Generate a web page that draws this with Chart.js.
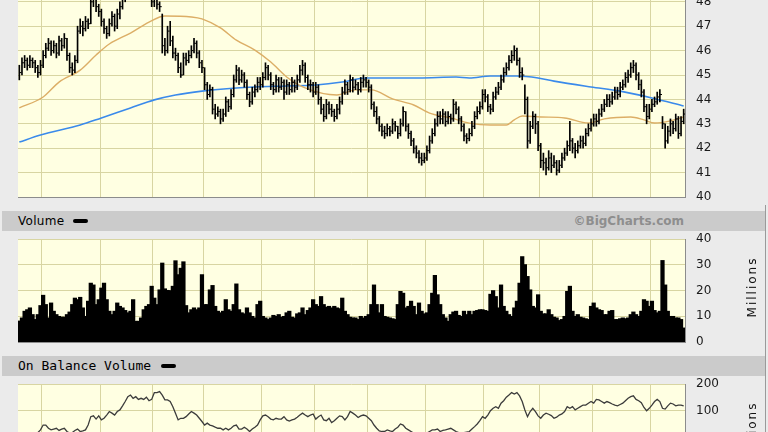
<!DOCTYPE html>
<html>
<head>
<meta charset="utf-8">
<script src="https://cdn.jsdelivr.net/npm/chart.js@4/dist/chart.umd.min.js"></script>
<style>
html,body{margin:0;padding:0;width:768px;height:432px;overflow:hidden;background:#EBEBEB;position:relative;font-family:"DejaVu Sans",Verdana,sans-serif;}
canvas{position:absolute;left:0;}
.band{position:absolute;left:2px;width:763px;height:20px;background:#CBCBCB;}
.lbl{position:absolute;left:18px;height:20px;line-height:20px;font-size:12px;color:#000;white-space:nowrap;}
.mono{font-family:"DejaVu Sans Mono",monospace;font-size:13px;}
.sw{position:absolute;width:15px;height:4px;background:#000;border-radius:2px;}
.copy{position:absolute;right:84px;height:20px;line-height:20px;font-size:12px;font-weight:bold;color:#8E8E8E;}
.mil{position:absolute;left:712px;width:80px;height:14px;line-height:14px;text-align:center;font-size:12px;letter-spacing:2px;color:#111;transform:rotate(-90deg);transform-origin:50% 50%;}
.edge{position:absolute;left:765px;top:205px;width:1px;height:227px;background:#9A9A9A;}
</style>
</head>
<body>
<canvas id="price" width="768" height="200" style="top:0px"></canvas>
<div class="band" style="top:211px"></div>
<div class="lbl" style="top:211px;letter-spacing:0.3px">Volume</div>
<div class="sw" style="left:73px;top:219px"></div>
<div class="copy" style="top:211px">©BigCharts.com</div>
<canvas id="vol" width="768" height="120" style="top:230px"></canvas>
<div class="mil" style="top:280px">Millions</div>
<div class="band" style="top:356px"></div>
<div class="lbl mono" style="top:356px">On Balance Volume</div>
<div class="sw" style="left:161px;top:364px"></div>
<canvas id="obv" width="768" height="56" style="top:376px"></canvas>
<div class="mil" style="top:425px">Millions</div>
<div class="edge"></div>
<script>
// ---------- DATA ----------
const monthStarts = [9, 31, 51, 70, 92, 112, 132, 154, 176, 197, 217, 239];
const priceTicks = [40, 41, 42, 43, 44, 45, 46, 47, 48];
const volumeTicks = [0, 10, 20, 30, 40];
const obvTicks = [100, 200];

const closes = [
 45.1,45.5,45.6,45.4,45.6,45.5,45.3,45.1,45.4,45.8,
 46.1,46.3,46.0,46.2,45.9,46.4,46.2,46.5,45.8,45.3,
 45.2,45.6,46.8,47.0,46.9,47.2,47.1,48.0,48.2,47.8,
 47.6,47.2,46.9,46.7,47.1,47.4,47.0,47.5,47.8,48.1,
 48.4,48.7,49.0,49.3,49.1,48.8,49.2,49.0,48.6,48.3,
 48.0,48.1,47.9,47.8,46.2,46.0,46.8,46.4,45.9,45.8,
 45.3,45.0,45.7,45.6,45.8,46.0,46.3,45.9,45.5,45.3,
 44.6,44.2,44.4,43.6,43.4,43.5,43.2,43.4,43.9,43.7,
 44.2,44.8,45.2,44.8,45.0,44.7,44.2,43.9,44.3,44.4,
 44.7,44.6,44.9,45.3,45.0,44.6,44.4,44.8,44.5,44.7,
 44.3,44.6,44.4,44.7,44.5,44.8,45.2,45.4,44.9,44.6,
 44.6,44.3,44.5,44.0,43.6,43.3,43.8,43.6,43.5,43.3,
 43.6,43.9,44.3,44.6,44.4,44.8,44.5,44.6,44.4,44.7,
 44.8,44.7,44.5,43.8,43.5,43.2,42.9,42.7,42.6,42.8,
 42.7,43.0,42.9,42.6,43.0,43.5,42.9,42.6,42.3,42.0,
 41.8,41.6,41.5,41.6,41.9,42.3,42.6,43.0,43.3,43.2,
 43.4,43.1,43.3,43.2,43.8,43.6,43.2,42.9,42.5,42.4,
 42.6,42.9,43.3,43.5,43.7,44.2,44.1,43.7,43.6,44.1,
 44.3,44.5,44.8,45.1,45.3,45.6,45.8,46.0,45.6,45.1,
 45.0,44.0,42.3,42.9,43.3,43.0,42.1,41.5,41.4,41.2,
 41.6,41.3,41.4,41.1,41.3,41.6,41.8,42.1,42.3,42.0,
 41.9,42.1,42.3,42.2,42.6,42.8,43.0,43.2,43.1,43.4,
 43.6,43.8,44.0,43.9,44.1,44.3,44.2,44.5,44.6,44.9,
 45.0,45.3,45.4,45.0,44.6,44.3,43.7,43.3,43.6,43.8,
 43.9,44.1,44.2,43.0,42.3,42.7,43.0,42.8,43.2,42.6,
 43.1,43.4
];
const highs = [
 45.4,45.7,45.8,45.7,45.8,45.7,45.6,45.4,45.6,46.0,
 46.3,46.5,46.4,46.4,46.3,46.6,46.5,46.7,46.5,45.9,
 45.5,45.8,47.0,47.3,47.2,47.4,47.3,48.2,48.4,48.3,
 47.9,47.7,47.3,47.0,47.3,47.6,47.5,47.7,48.0,48.3,
 48.6,48.9,49.2,49.5,49.4,49.2,49.4,49.3,49.1,48.7,
 48.4,48.3,48.2,48.0,47.5,46.5,47.0,47.2,46.6,46.1,
 45.9,45.5,45.9,45.9,46.0,46.2,46.5,46.4,46.0,45.6,
 45.3,44.7,44.6,44.5,43.8,43.7,43.6,43.6,44.1,44.0,
 44.4,45.0,45.4,45.3,45.2,45.1,44.8,44.3,44.5,44.6,
 44.9,44.9,45.1,45.5,45.4,45.1,44.7,45.0,44.9,44.9,
 44.8,44.8,44.7,44.9,44.8,45.0,45.4,45.6,45.5,45.0,
 44.8,44.7,44.7,44.6,44.1,43.8,44.0,43.9,43.8,43.6,
 43.8,44.1,44.5,44.8,44.7,45.0,44.9,44.8,44.7,44.9,
 45.0,44.9,44.8,44.6,43.9,43.7,43.3,43.0,42.9,43.0,
 42.9,43.2,43.1,42.9,43.2,43.7,43.5,43.0,42.7,42.4,
 42.1,41.9,41.8,41.8,42.1,42.5,42.8,43.2,43.5,43.5,
 43.6,43.5,43.5,43.4,44.0,43.9,43.7,43.3,43.0,42.6,
 42.8,43.1,43.5,43.7,43.9,44.4,44.4,44.2,43.8,44.3,
 44.5,44.7,45.0,45.3,45.5,45.8,46.0,46.2,46.1,45.7,
 45.3,44.6,44.1,43.1,43.5,43.4,43.1,42.2,41.8,41.6,
 41.9,41.8,41.7,41.5,41.5,41.8,42.0,42.3,43.1,42.4,
 42.2,42.3,42.5,42.5,42.8,43.0,43.2,43.4,43.4,43.6,
 43.8,44.0,44.2,44.2,44.3,44.5,44.5,44.7,44.8,45.1,
 45.2,45.5,45.6,45.5,45.1,44.8,44.4,43.8,43.8,44.0,
 44.1,44.3,44.4,43.3,43.0,42.9,43.2,43.1,43.4,43.3,
 43.3,43.6
];
const lows = [
 44.8,45.0,45.3,45.2,45.3,45.3,45.1,44.9,45.0,45.3,
 45.7,46.0,45.8,45.9,45.7,45.8,46.0,46.1,45.6,45.1,
 45.0,45.1,45.5,46.7,46.6,46.8,46.9,47.1,47.8,47.6,
 47.4,47.0,46.7,46.5,46.6,47.0,46.8,46.9,47.3,47.7,
 48.0,48.3,48.6,48.9,48.9,48.6,48.7,48.8,48.4,48.1,
 47.8,47.8,47.7,47.6,45.9,45.8,45.9,46.2,45.7,45.6,
 45.1,44.9,45.0,45.4,45.5,45.7,45.9,45.7,45.3,45.1,
 44.4,44.0,44.1,43.4,43.2,43.3,43.0,43.1,43.3,43.5,
 43.6,44.1,44.7,44.6,44.7,44.5,44.0,43.7,43.8,44.1,
 44.3,44.4,44.5,44.8,44.8,44.4,44.2,44.3,44.3,44.4,
 44.0,44.2,44.2,44.3,44.3,44.4,44.7,45.0,44.7,44.4,
 44.3,44.1,44.2,43.8,43.4,43.1,43.2,43.4,43.3,43.1,
 43.2,43.4,43.8,44.2,44.2,44.3,44.3,44.4,44.2,44.3,
 44.5,44.5,44.3,43.6,43.3,43.0,42.7,42.5,42.4,42.5,
 42.5,42.6,42.7,42.4,42.5,42.9,42.7,42.4,42.1,41.8,
 41.6,41.4,41.3,41.4,41.5,41.8,42.2,42.5,42.9,43.0,
 43.0,42.9,43.0,43.0,43.1,43.4,43.0,42.7,42.3,42.2,
 42.3,42.5,42.8,43.2,43.4,43.6,43.9,43.5,43.4,43.5,
 44.0,44.2,44.4,44.7,45.0,45.2,45.5,45.6,45.4,44.9,
 44.8,43.4,42.0,42.2,42.8,42.6,41.9,41.2,41.1,40.9,
 41.1,41.0,41.2,40.9,41.0,41.2,41.5,41.7,41.9,41.8,
 41.6,41.8,42.0,42.0,42.1,42.5,42.7,42.9,42.9,43.0,
 43.3,43.5,43.7,43.7,43.8,44.0,44.0,44.1,44.4,44.5,
 44.7,44.9,45.1,44.8,44.4,44.1,43.5,43.0,43.2,43.5,
 43.7,43.8,43.9,42.8,42.0,42.2,42.5,42.6,42.7,42.4,
 42.5,43.0
];
// moving averages, read at sample bars
const maShortIdx = [0,9,15,23,29,34,42,49,55,65,69,76,82,89,95,101,108,120,127,133,141,149,155,163,170,178,184,187,190,197,206,215,221,231,236,240,246,251];
const maShortVal = [43.65,44.10,44.71,45.20,45.82,46.27,46.72,47.17,47.42,47.38,47.30,46.93,46.43,46.02,45.53,44.92,44.47,44.18,44.39,44.39,44.02,43.77,43.44,43.24,43.03,42.95,42.95,43.16,43.32,43.28,43.24,43.03,43.20,43.28,43.16,43.03,43.12,43.28];
const maLongIdx = [0,8,23,31,42,51,59,69,82,89,101,112,122,131,151,165,170,178,188,196,202,216,227,239,251];
const maLongVal = [42.25,42.54,42.95,43.24,43.65,43.98,44.18,44.34,44.47,44.51,44.55,44.59,44.71,44.88,44.88,44.92,44.88,44.96,44.96,44.88,44.75,44.51,44.34,44.06,43.73];

const volumes = [
 8.0,9.2,11.8,12.4,13.1,10.5,8.6,10.5,14.0,18.0,
 14.4,9.2,15.0,11.8,10.5,9.8,9.5,9.5,10.5,11.5,
 14.4,16.9,16.3,17.2,13.1,9.8,15.7,22.7,22.0,14.4,
 16.3,20.8,22.7,16.3,11.8,10.5,11.8,15.0,13.7,13.1,
 12.1,11.2,11.8,16.3,7.9,7.9,9.2,12.4,13.7,14.4,
 21.5,16.9,14.4,20.1,30.5,20.5,19.9,19.8,21.5,31.4,
 26.0,28.5,31.0,14.0,11.2,12.4,13.1,12.4,13.1,26.0,
 14.4,14.4,20.1,21.8,13.7,11.8,11.2,11.8,16.3,12.4,
 11.8,14.4,22.4,12.4,11.2,10.8,13.1,11.2,9.8,9.2,
 14.4,15.7,9.8,9.2,8.6,9.2,10.2,9.8,10.5,9.5,
 9.8,11.2,11.8,9.5,9.2,10.8,11.2,13.1,10.5,12.1,
 13.1,16.3,14.4,13.7,17.5,14.4,13.4,13.7,13.1,13.7,
 13.1,12.8,16.9,11.8,10.5,9.5,9.2,9.2,8.6,9.8,
 9.2,9.8,10.5,14.4,22.0,14.4,11.2,14.4,9.8,9.5,
 9.2,8.9,8.6,14.4,19.5,18.8,13.1,13.7,15.7,13.7,
 10.5,15.0,11.8,10.8,11.2,14.4,18.8,25.7,18.2,14.4,
 10.5,9.2,7.9,10.5,11.5,11.8,10.2,9.8,11.8,10.5,
 11.8,10.5,11.8,12.1,12.4,12.4,12.1,11.8,18.4,19.8,
 17.5,13.1,22.0,13.7,11.8,10.5,9.8,13.1,15.7,22.7,
 33.0,29.9,25.3,20.1,13.7,13.1,18.2,11.8,10.8,10.8,
 12.4,10.5,9.5,9.2,8.2,8.6,9.8,19.5,21.5,11.8,
 9.8,10.5,9.5,9.2,8.9,8.6,13.7,15.0,13.1,12.4,
 12.1,10.5,10.5,11.8,12.1,8.6,8.6,8.9,9.2,8.9,
 9.2,10.5,11.5,10.5,9.8,11.8,16.3,15.7,13.7,15.7,
 12.1,11.2,11.8,31.5,22.0,11.8,9.8,9.8,9.2,9.2,
 8.6,5.3
];
const obv = [
 5,12,8,15,10,18,14,20,30,48,
 48,36,30,33,36,28,33,36,24,18,
 20,28,33,24,26,30,48,79,82,70,
 82,67,73,85,98,92,85,98,104,119,
 135,153,159,147,153,143,147,143,151,138,
 143,168,168,172,159,141,141,135,116,92,
 67,73,73,79,89,98,92,85,73,61,
 48,55,48,45,40,36,36,30,36,30,
 36,45,48,33,33,40,33,24,33,40,
 48,67,82,85,79,70,67,73,70,70,
 79,67,63,67,70,77,85,92,85,79,
 85,89,70,79,85,67,64,73,57,64,
 73,82,79,67,79,98,92,85,76,82,
 85,82,73,64,48,36,26,24,24,30,
 26,24,33,40,52,48,36,30,24,18,
 11,11,8,11,18,24,30,30,33,24,
 28,30,33,36,30,24,20,20,20,22,
 24,33,42,52,64,79,73,85,101,110,
 116,110,129,138,151,159,168,163,168,156,
 135,104,79,98,110,98,82,73,85,92,
 88,83,73,77,85,89,98,116,110,116,
 104,110,116,122,122,129,135,129,143,141,
 135,129,135,131,126,122,119,124,129,138,
 147,153,156,143,138,131,113,101,110,122,
 135,143,135,110,107,119,129,126,119,122,
 122,119
];

// ---------- STYLE ----------
const N = closes.length;
const GRID = '#D8D5A2';
const PLOT_BG = '#FFFFE2';
const BORDER = '#8C8C8C';
const TICK_FONT = {family: 'DejaVu Sans', size: 12};

const plotBg = {
  id: 'plotBg',
  beforeDraw(chart) {
    const a = chart.chartArea, ctx = chart.ctx;
    ctx.save();
    ctx.fillStyle = PLOT_BG;
    ctx.fillRect(a.left, a.top, a.right - a.left, a.bottom - a.top);
    ctx.restore();
  }
};

function xAxis() {
  return {
    type: 'linear', min: -0.5, max: N - 0.5, offset: false,
    ticks: {display: false},
    grid: {color: GRID, drawTicks: false, offset: false, lineWidth: 1},
    border: {display: true, color: BORDER, width: 1},
    afterBuildTicks: s => { s.ticks = monthStarts.map(v => ({value: v - 0.5})); },
    afterFit: s => { s.height = 0; s.paddingLeft = 0; s.paddingRight = 0; }
  };
}
function yAxis(min, max, ticks) {
  return {
    position: 'right', min: min, max: max,
    ticks: {color: '#1A1A1A', font: TICK_FONT, padding: 11},
    grid: {color: GRID, drawTicks: false, lineWidth: 1},
    border: {display: true, color: BORDER, width: 1},
    afterBuildTicks: s => { s.ticks = ticks.map(v => ({value: v})); },
    afterFit: s => { s.width = 83; s.paddingTop = 0; s.paddingBottom = 0; }
  };
}
const common = {
  responsive: false, animation: false, devicePixelRatio: 1,
  plugins: {legend: {display: false}, tooltip: {enabled: false}}
};
function layout(top, bottom) {
  return {autoPadding: false, padding: {left: 18, top: top, right: 0, bottom: bottom}};
}

// ---------- PRICE ----------
new Chart(document.getElementById('price'), {
  type: 'bar',
  data: {
    datasets: [
      {type: 'bar', order: 0, data: closes.map((c, i) => ({x: i, y: [lows[i], highs[i]]})),
       backgroundColor: '#000', borderWidth: 0, barThickness: 1},
      {type: 'scatter', order: 0, data: closes.map((c, i) => ({x: i + 0.4, y: c})),
       pointStyle: 'line', pointRadius: 1.1, pointHoverRadius: 0, borderColor: '#000', borderWidth: 1},
      {type: 'line', order: 2, data: maShortIdx.map((x, k) => ({x: x, y: maShortVal[k]})),
       borderColor: '#DCAE66', borderWidth: 1.4, pointRadius: 0, pointHoverRadius: 0, cubicInterpolationMode: 'monotone'},
      {type: 'line', order: 2, data: maLongIdx.map((x, k) => ({x: x, y: maLongVal[k]})),
       borderColor: '#3A8AEB', borderWidth: 1.6, pointRadius: 0, pointHoverRadius: 0, cubicInterpolationMode: 'monotone'}
    ]
  },
  options: Object.assign({}, common, {
    layout: layout(0, 3),
    scales: {x: xAxis(), y: yAxis(40, 48.074, priceTicks)}
  }),
  plugins: [plotBg]
});

// ---------- VOLUME ----------
new Chart(document.getElementById('vol'), {
  type: 'bar',
  data: {
    datasets: [{data: volumes.map((v, i) => ({x: i, y: v})), backgroundColor: '#000',
      borderWidth: 0, barPercentage: 1, categoryPercentage: 1, inflateAmount: 0.8}]
  },
  options: Object.assign({}, common, {
    layout: layout(9, 8),
    scales: {x: xAxis(), y: yAxis(0, 40, volumeTicks)}
  }),
  plugins: [plotBg]
});

// ---------- ON BALANCE VOLUME ----------
new Chart(document.getElementById('obv'), {
  type: 'line',
  data: {
    datasets: [{data: obv.map((v, i) => ({x: i, y: v})), borderColor: '#3C3C3C',
      borderWidth: 1.3, pointRadius: 0, pointHoverRadius: 0, tension: 0}]
  },
  options: Object.assign({}, common, {
    layout: layout(8, 0),
    scales: {x: xAxis(), y: yAxis(22.2, 200, obvTicks)}
  }),
  plugins: [plotBg]
});
</script>
</body>
</html>
